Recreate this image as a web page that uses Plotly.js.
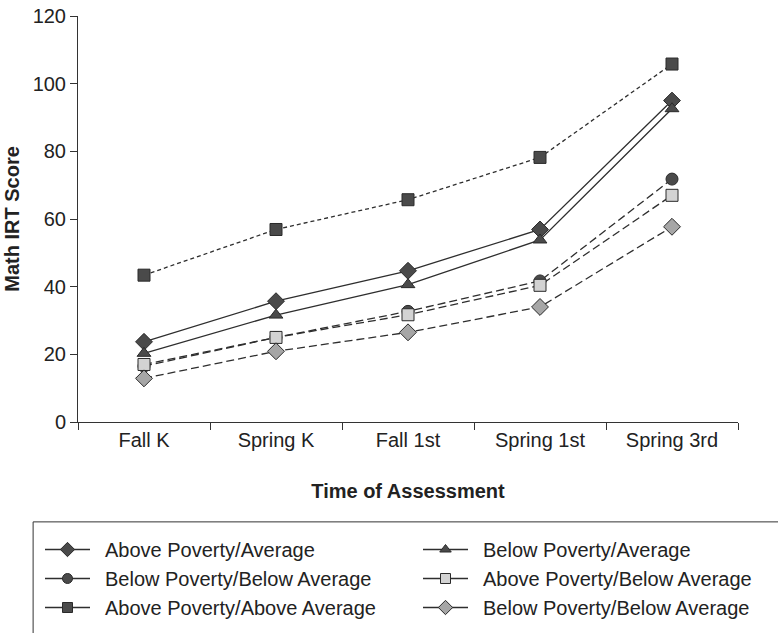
<!DOCTYPE html>
<html>
<head>
<meta charset="utf-8">
<script src="https://cdn.plot.ly/plotly-3.0.1.min.js"></script>
<style>html,body{margin:0;padding:0;background:#fff;}#chart{width:778px;height:633px;}</style>
</head>
<body>
<div id="chart"></div>
<script>
const categories = ["Fall K", "Spring K", "Fall 1st", "Spring 1st", "Spring 3rd"];
const seriesNames = [
  "Above Poverty/Average",
  "Below Poverty/Average",
  "Below Poverty/Below Average",
  "Above Poverty/Below Average",
  "Above Poverty/Above Average",
  "Below Poverty/Below Average"
];
const abovePovAverage = [23.7, 35.7, 44.7, 56.9, 95.0];
const belowPovAverage = [20.3, 31.6, 40.6, 53.8, 92.6];
const belowPovBelowAvgA = [16.5, 25.0, 32.7, 41.7, 71.8];
const abovePovBelowAvg = [17.0, 25.0, 31.7, 40.4, 67.0];
const abovePovAboveAvg = [43.4, 56.9, 65.7, 78.2, 105.8];
const belowPovBelowAvgB = [12.9, 20.9, 26.5, 34.0, 57.7];
const yTicks = [0, 20, 40, 60, 80, 100, 120];

const seriesValues = [abovePovAverage, belowPovAverage, belowPovBelowAvgA, abovePovBelowAvg, abovePovAboveAvg, belowPovBelowAvgB];
const styles = [
  {symbol: "diamond", size: 13, lsize: 11, color: "#4a4a4a", dash: "solid"},
  {symbol: "triangle-up", size: 12, lsize: 10, color: "#4a4a4a", dash: "solid"},
  {symbol: "circle", size: 12, lsize: 10, color: "#4a4a4a", dash: "8px,4px"},
  {symbol: "square", size: 12, lsize: 10, color: "#d3d3d3", dash: "8px,4px"},
  {symbol: "square", size: 12, lsize: 10, color: "#4a4a4a", dash: "4px,3px"},
  {symbol: "diamond", size: 13, lsize: 11, color: "#a6a6a6", dash: "8px,4px"}
];

const traces = [];
seriesValues.forEach((vals, i) => {
  const s = styles[i];
  traces.push({
    x: categories, y: vals, type: "scatter", mode: "lines+markers",
    name: seriesNames[i], showlegend: false,
    line: {color: "#2e2e2e", width: 1.3, dash: s.dash},
    marker: {symbol: s.symbol, size: s.size, color: s.color, line: {color: "#2a2a2a", width: 1}}
  });
});
// legend entries (solid line samples as in the reference legend), two columns
seriesValues.forEach((vals, i) => {
  const s = styles[i];
  traces.push({
    x: [null], y: [null], type: "scatter", mode: "lines+markers",
    name: "\u2002" + seriesNames[i], showlegend: true, hoverinfo: "skip",
    legend: (i % 2 === 0) ? "legend" : "legend2",
    line: {color: "#2e2e2e", width: 1.3},
    marker: {symbol: s.symbol, size: s.lsize, color: s.color, line: {color: "#2a2a2a", width: 1}}
  });
});

const font = "Liberation Sans, Arial, sans-serif";
const legendBase = {
  orientation: "h", xref: "container", yref: "container",
  xanchor: "left", y: 1 - 530 / 633, yanchor: "top",
  entrywidth: 320, entrywidthmode: "pixels",
  traceorder: "normal", itemwidth: 45, tracegroupgap: 0,
  font: {size: 20, family: font, color: "#222"}, bgcolor: "rgba(0,0,0,0)"
};
const layout = {
  width: 778, height: 633,
  margin: {l: 78, r: 40, t: 16, b: 211},
  paper_bgcolor: "#fff", plot_bgcolor: "#fff",
  font: {family: font, size: 20, color: "#222"},
  xaxis: {
    type: "category", range: [-0.5, 4.5], tickson: "boundaries",
    ticks: "outside", ticklen: 7, tickcolor: "#333", tickwidth: 1,
    showline: true, linecolor: "#333", linewidth: 1, showgrid: false, zeroline: false,
    tickfont: {size: 20, family: font, color: "#222"},
    title: {text: "<b>Time of Assessment</b>", font: {size: 20, family: font, color: "#222"}, standoff: 33}
  },
  yaxis: {
    range: [0, 120], tickvals: yTicks, ticks: "outside", ticklen: 7, tickcolor: "#333",
    showline: true, linecolor: "#333", linewidth: 1, showgrid: false, zeroline: false,
    tickfont: {size: 20, family: font, color: "#222"},
    title: {text: "<b>Math IRT Score</b>", font: {size: 20, family: font, color: "#222"}, standoff: 7}
  },
  legend: Object.assign({}, legendBase, {x: 40 / 778}),
  legend2: Object.assign({}, legendBase, {x: 418 / 778}),
  shapes: [{
    type: "rect", xref: "paper", yref: "paper",
    x0: -0.068, x1: 1.2, y0: -0.7, y1: -0.246,
    line: {color: "#333", width: 1}, fillcolor: "rgba(0,0,0,0)"
  }],
  showlegend: true
};

Plotly.newPlot("chart", traces, layout, {displayModeBar: false, staticPlot: true});
</script>
</body>
</html>
